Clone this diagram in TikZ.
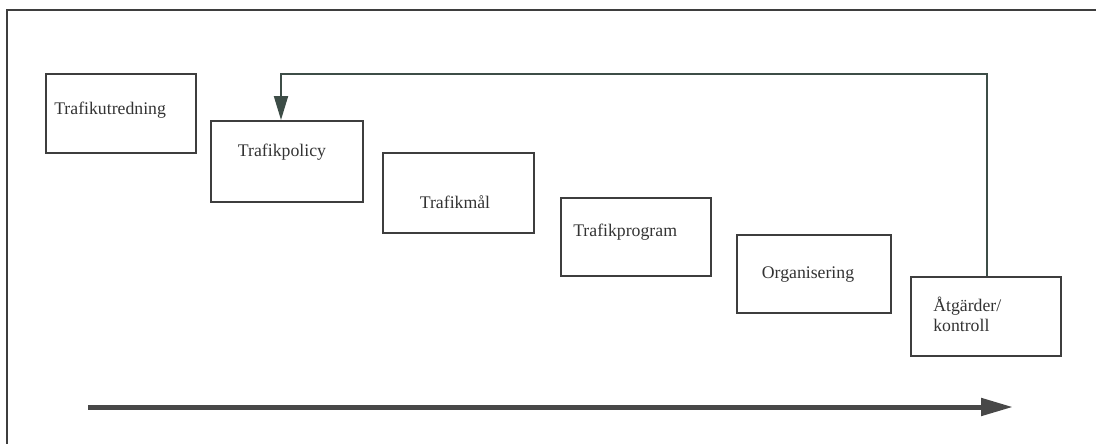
\documentclass[tikz,border=0pt]{standalone}
\usepackage{fontspec}
\setmainfont{Liberation Serif}
\usetikzlibrary{arrows.meta}
\definecolor{edge}{HTML}{3E3E3E}
\definecolor{loopc}{HTML}{3D4D47}
\definecolor{ink}{HTML}{333333}
\tikzset{
  stage/.style={draw=edge, line width=1.5pt, rectangle, inner sep=0pt},
  lbl/.style={text=ink, font=\fontsize{13.3pt}{15.5pt}\selectfont, inner sep=0pt, align=left},
}
\begin{document}
\begin{tikzpicture}[x=0.75pt, y=-0.75pt]
\useasboundingbox (0,0) rectangle (1096,444);
% outer frame (top and left edges)
\coordinate (ftr) at (1096,10);
\coordinate (ftl) at (7,10);
\coordinate (fbl) at (7,444);
\draw[edge, line width=1.6pt] (ftr) -- (ftl) -- (fbl);

% stages
\node[stage, minimum width=112.5pt, minimum height=59.25pt] (b1) at (121,113.5) {};
\node[stage, minimum width=114pt,   minimum height=60.75pt] (b2) at (287,161.5) {};
\node[stage, minimum width=113.25pt,minimum height=60pt]    (b3) at (458.5,193) {};
\node[stage, minimum width=112.5pt, minimum height=58.5pt]  (b4) at (636,237) {};
\node[stage, minimum width=115.5pt, minimum height=58.5pt]  (b5) at (814,274) {};
\node[stage, minimum width=112.5pt, minimum height=59.25pt] (b6) at (986,316.5) {};

\node[lbl, anchor=west] (t1) at (54,110) {Trafikutredning};
\node[lbl] (t2) at (282,152) {Trafikpolicy};
\node[lbl] (t3) at (455,202) {Trafikmål};
\node[lbl, anchor=west] (t4) at (573,232) {Trafikprogram};
\node[lbl] (t5) at (808,275) {Organisering};
\node[lbl, anchor=west, font=\fontsize{13.3pt}{15pt}\selectfont] (t6) at (933,314) {Åtgärder/\\kontroll};

% feedback loop
\coordinate (loop) at (281,74);
\draw[loopc, line width=1.5pt, -{Triangle[length=18pt, width=10.5pt]}]
  (b6.north -| 987,0) |- (loop) -- (loop |- b2.north);

% time axis
\coordinate (ax0) at (88,407);
\coordinate (ax1) at (1013,407);
\draw[edge!95, line width=3.75pt, -{Triangle[length=24pt, width=12.75pt]}] (ax0) -- (ax1);
\end{tikzpicture}
\end{document}
